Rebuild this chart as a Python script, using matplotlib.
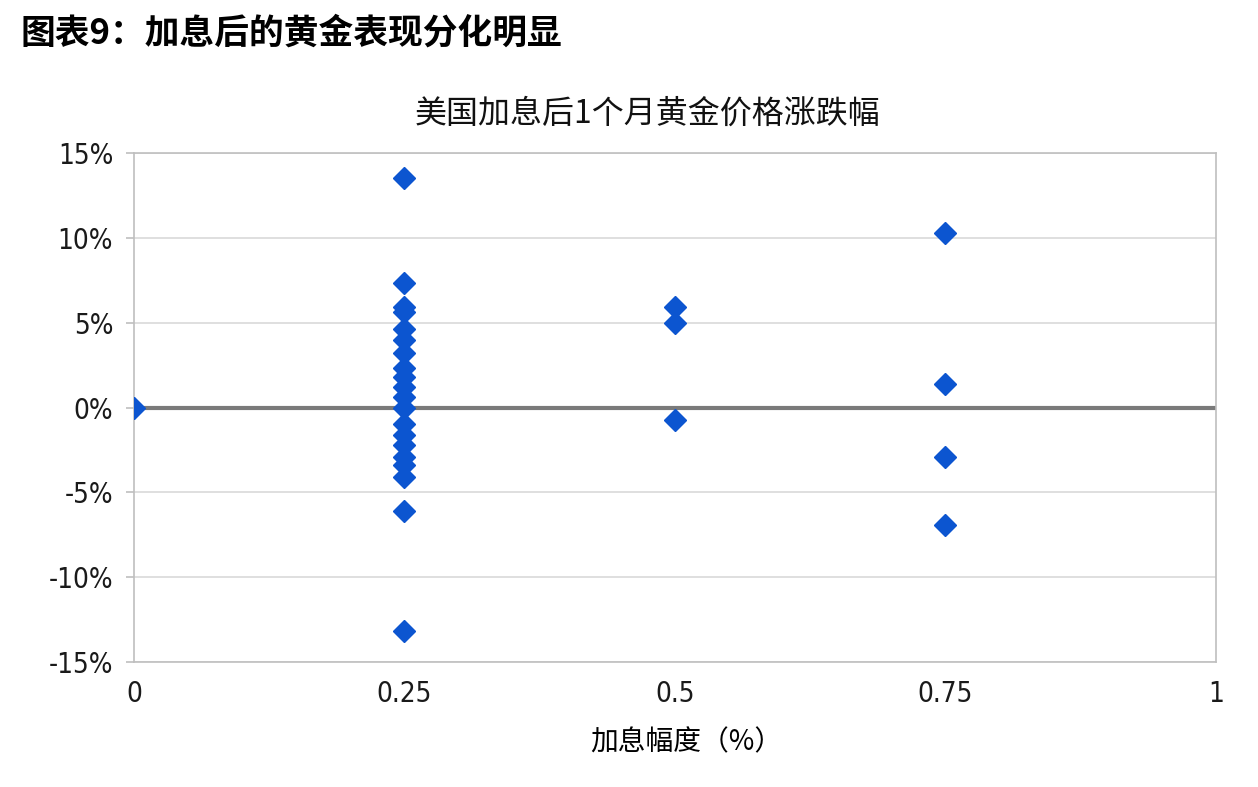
import matplotlib.pyplot as plt
from matplotlib.ticker import FuncFormatter

plt.rcParams['font.family'] = ['Noto Sans CJK SC', 'DejaVu Sans']

# 加息幅度 (%) 和 加息后1个月黄金涨跌幅 (%)
hike_0 = [0.0]
ret_0 = [0.0]
hike_025 = [0.25] * 20
ret_025 = [13.5, 7.35, 5.9, 5.6, 4.6, 4.0, 3.2, 2.35, 1.8, 1.2, 0.6, 0.0,
           -1.0, -1.6, -2.2, -2.9, -3.4, -4.1, -6.1, -13.2]
hike_05 = [0.5] * 3
ret_05 = [5.9, 5.0, -0.75]
hike_075 = [0.75] * 4
ret_075 = [10.3, 1.4, -2.9, -6.9]

x_ticks = [0, 0.25, 0.5, 0.75, 1]
x_labels = ['0', '0.25', '0.5', '0.75', '1']
y_ticks = [-15, -10, -5, 0, 5, 10, 15]

xs = hike_0 + hike_025 + hike_05 + hike_075
ys = ret_0 + ret_025 + ret_05 + ret_075

fig = plt.figure(figsize=(12.58, 7.87), dpi=100)
ax = fig.add_axes([0.1065, 0.1588, 0.8601, 0.6468])

for y in y_ticks:
    if y != 0:
        ax.axhline(y, color='#d9d9d9', lw=1.2, zorder=1)
ax.axhline(0, color='#7a7a7a', lw=3, zorder=2)

ax.plot(xs, ys, linestyle='none', marker='D', markersize=11,
        color='#0c55d0', zorder=3)

ax.set_xlim(0, 1)
ax.set_ylim(-15, 15)
ax.set_xticks(x_ticks)
ax.set_xticklabels(x_labels)
ax.set_yticks(y_ticks)
ax.yaxis.set_major_formatter(FuncFormatter(lambda v, p: f'{v:.0f}%'))

for s in ax.spines.values():
    s.set_color('#bfbfbf')
    s.set_linewidth(1.2)
ax.tick_params(axis='y', length=6, color='#bfbfbf', width=1.2, pad=9)
ax.tick_params(axis='x', length=0, pad=13)
for lab in ax.get_xticklabels() + ax.get_yticklabels():
    lab.set_family(['Liberation Sans Narrow', 'DejaVu Sans'])
    lab.set_stretch('condensed')
    lab.set_fontsize(20)
    lab.set_color('#1a1a1a')

# 图内标题
fig.text(0.515, 0.856, '美国加息后1个月黄金价格涨跌幅', fontsize=23,
         ha='center', va='center', color='#111111')
ax.set_xlabel('加息幅度（%）', fontsize=20)
ax.xaxis.set_label_coords(0.51, -0.128)

fig.text(0.016, 0.958, '图表9：加息后的黄金表现分化明显', fontsize=25,
         fontweight='bold', va='center', ha='left')

fig.savefig('out.png', dpi=100, facecolor='white')
